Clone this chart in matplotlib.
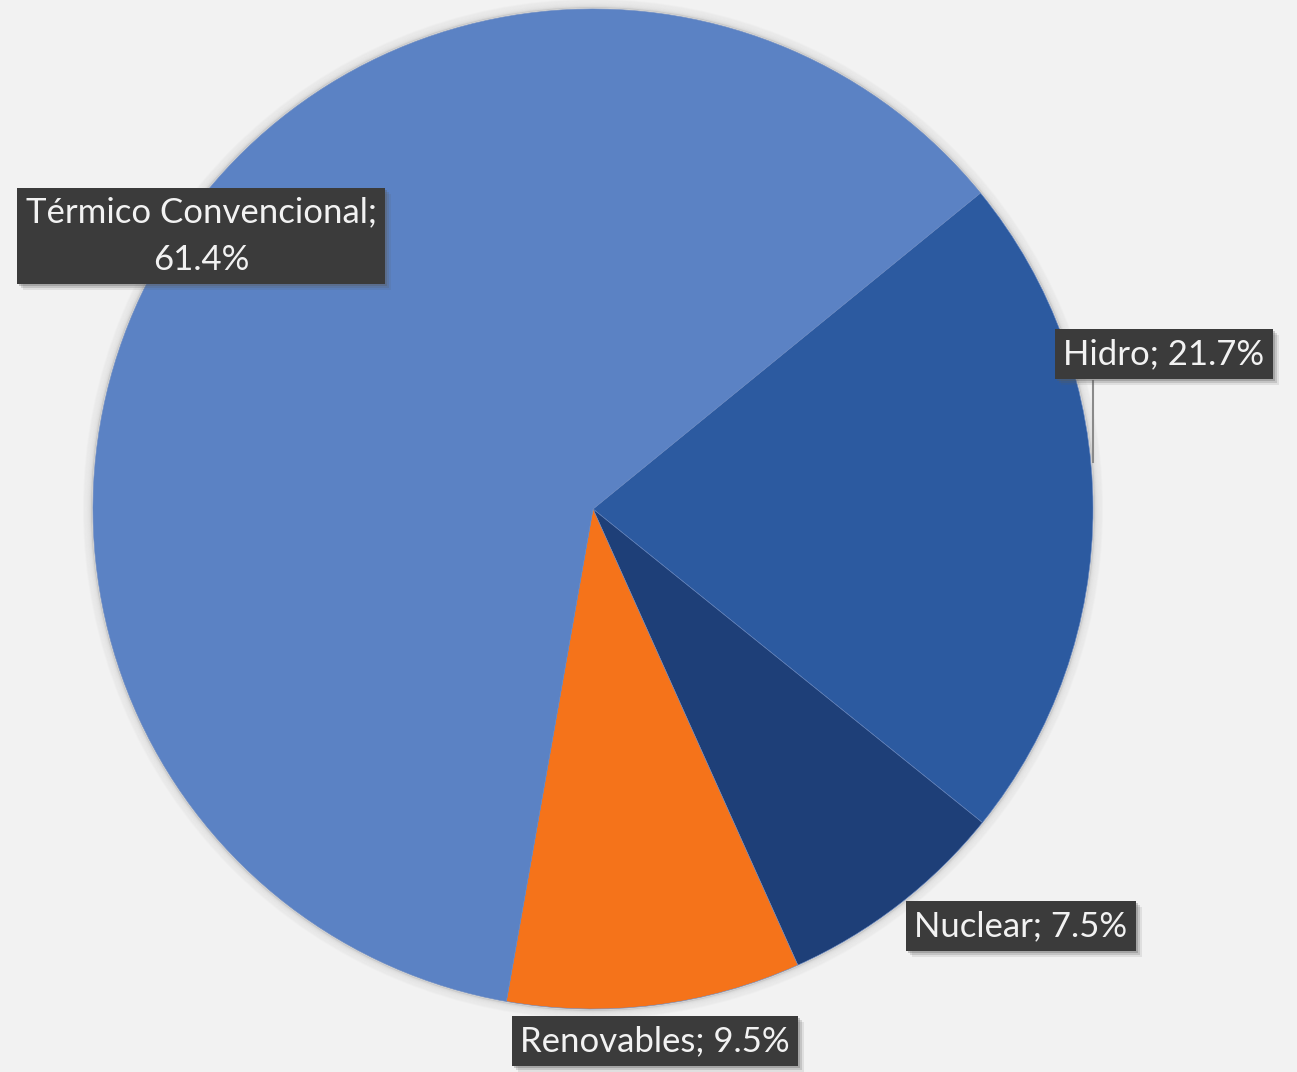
import numpy as np
import matplotlib.pyplot as plt
from matplotlib.patches import Circle, Rectangle

plt.rcParams['font.family'] = ['Lato', 'DejaVu Sans']

# Generation mix (%)
fuentes = ['Hidro', 'Nuclear', 'Renovables', 'Térmico Convencional']
porcentajes = [21.7, 7.5, 9.5, 61.4]
colores = ['#2C5AA0', '#1E3F78', '#F5731A', '#5B82C4']

W, H = 1297, 1072
fig = plt.figure(figsize=(W / 100, H / 100), dpi=100, facecolor='#F2F2F2')
ax = fig.add_axes([0, 0, 1, 1])
ax.set_facecolor('#F2F2F2')

cx, cy, r = 593, H - 509, 500

# soft halo round the pie
for k in range(1, 10):
    ax.add_patch(Circle((cx, cy), r + k, facecolor='none',
                        edgecolor='#8E8E8E', lw=1.5, alpha=0.28 / k, zorder=0))

wedges, _ = ax.pie(porcentajes, colors=colores, startangle=39.2,
                   counterclock=False, center=(cx, cy), radius=r,
                   wedgeprops=dict(linewidth=0.4, edgecolor='#6686C0'),
                   frame=True)
ax.set_xlim(0, W)
ax.set_ylim(0, H)
ax.set_aspect('equal')
ax.axis('off')

etiquetas = ['%s; %.1f%%' % (f, p) for f, p in zip(fuentes, porcentajes)]
etiquetas[3] = 'Térmico Convencional;\n%.1f%%' % porcentajes[3]
pos = [(1164, H - 354), (1021, H - 926), (655, H - 1041), (201, H - 236)]

textos = []
for txt, (x, y) in zip(etiquetas, pos):
    t = ax.text(x, y, txt, ha='center', va='center', fontsize=25,
                color='#F2F2F2', linespacing=1.6, zorder=5,
                bbox=dict(boxstyle='square,pad=0.25', fc='#3B3B3B', ec='none'))
    textos.append(t)

# drop shadows behind the label boxes
fig.canvas.draw()
inv = ax.transData.inverted()
for t in textos:
    bb = t.get_bbox_patch().get_window_extent()
    (x0, y0), (x1, y1) = inv.transform([[bb.x0, bb.y0], [bb.x1, bb.y1]])
    for k, a in [(6, 0.12), (4, 0.2), (2, 0.3)]:
        ax.add_patch(Rectangle((x0 + k, y0 - k), x1 - x0, y1 - y0,
                               fc='#5A5A5A', ec='none', alpha=a, zorder=4))

# leader line for Hidro
ax.plot([1093, 1093], [H - 381, H - 462], color='#8A8A8A', lw=1.5, zorder=3)

fig.savefig('out.png', dpi=100, facecolor=fig.get_facecolor())
